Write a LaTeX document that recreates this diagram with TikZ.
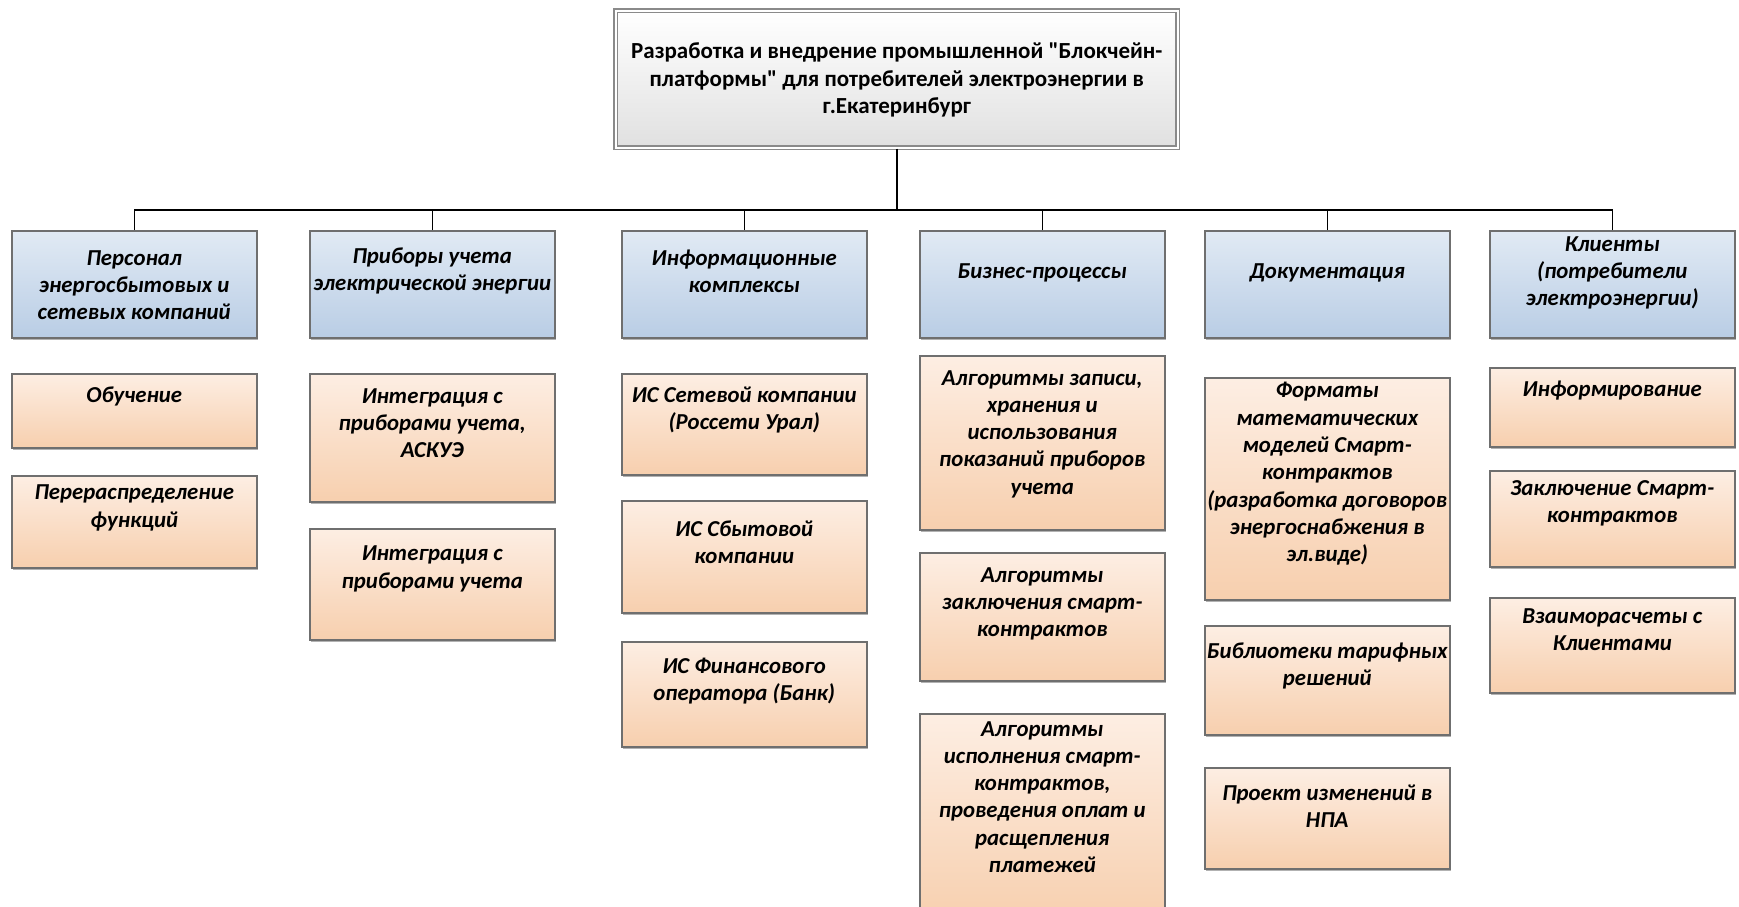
\documentclass[tikz,border=0pt]{standalone}
\usepackage{fontspec}
\setmainfont{Carlito}[Ligatures=TeXOff]
\usetikzlibrary{shadows}

\definecolor{edgeGray}{HTML}{6F6F6F}
\definecolor{rootEdge}{HTML}{8A8A8A}
\definecolor{blueTop}{HTML}{E1EAF4}
\definecolor{blueBot}{HTML}{B9CDE5}
\definecolor{peachTop}{HTML}{FDEEE3}
\definecolor{peachBot}{HTML}{F7CFAE}

\tikzset{
  boxshadow/.style={drop shadow={shadow xshift=1.5pt, shadow yshift=-2pt, opacity=0.3, fill=black}},
  rootbox/.style={draw=rootEdge, line width=1.7pt, double=white, double distance=1.8pt,
    top color=white, bottom color=black!12, boxshadow, inner sep=0},
  headbox/.style={draw=edgeGray, line width=1.5pt, top color=blueTop, bottom color=blueBot,
    boxshadow, inner sep=0},
  itembox/.style={draw=edgeGray, line width=1.5pt, top color=peachTop, bottom color=peachBot,
    boxshadow, inner sep=0},
  roottext/.style={font=\fontsize{23}{27.3}\selectfont\bfseries, align=center, inner sep=0},
  celltext/.style={font=\fontsize{22.8}{27.3}\selectfont\bfseries\itshape, align=center, inner sep=0},
  wire/.style={draw=black, line width=1.5pt},
  trunk/.style={draw=black, line width=2.2pt}
}

% box style, text style, name, left x, top y, width, height, text centre y, text
\newcommand\cell[9]{%
  \node[#1, anchor=north west, minimum width=#6pt, minimum height=#7pt] (#3) at (#4,#5) {};
  \node[#2] (#3-t) at (#3.north |- 0,#8) {#9};}

\begin{document}
\begin{tikzpicture}[x=1pt, y=-1pt]
  \useasboundingbox (0,0) rectangle (1739,906);
  \clip (0,0) rectangle (1739,906);
  \fill[white] (0,0) rectangle (1739,906);

  % root
  \cell{rootbox}{roottext}{root}{615}{10}{562}{137}{80}{Разработка и внедрение промышленной "Блокчейн-\\платформы" для потребителей электроэнергии в\\г.Екатеринбург}

  % first level
  \cell{headbox}{celltext}{h1}{11}{230}{245}{107}{285}{Персонал\\энергосбытовых и\\сетевых компаний}
  \cell{headbox}{celltext}{h2}{309}{230}{245}{107}{271}{Приборы учета\\электрической энергии}
  \cell{headbox}{celltext}{h3}{621}{230}{245}{107}{271}{Информационные\\комплексы}
  \cell{headbox}{celltext}{h4}{919}{230}{245}{107}{273}{Бизнес-процессы}
  \cell{headbox}{celltext}{h5}{1204}{230}{245}{107}{273}{Документация}
  \cell{headbox}{celltext}{h6}{1489}{230}{245}{107}{273}{Клиенты\\(потребители\\электроэнергии)}

  % connectors
  \coordinate (bus) at (root.south |- 0,210);
  \draw[trunk] (root.south) -- (bus);
  \foreach \h in {h1,h2,h3,h4,h5,h6} {\draw[wire] (\h.north) |- (bus);}

  % column 1
  \cell{itembox}{celltext}{a1}{11}{373}{245}{74}{396}{Обучение}
  \cell{itembox}{celltext}{a2}{11}{475}{245}{92}{508}{Перераспределение\\функций}
  % column 2
  \cell{itembox}{celltext}{b1}{309}{373}{245}{128}{423}{Интеграция с\\приборами учета,\\АСКУЭ}
  \cell{itembox}{celltext}{b2}{309}{528}{245}{111}{569}{Интеграция с\\приборами учета}
  % column 3
  \cell{itembox}{celltext}{c1}{621}{373}{245}{101}{410}{ИС Сетевой компании\\(Россети Урал)}
  \cell{itembox}{celltext}{c2}{621}{500}{245}{112}{542}{ИС Сбытовой\\компании}
  \cell{itembox}{celltext}{c3}{621}{641}{245}{105}{681}{ИС Финансового\\оператора (Банк)}
  % column 4
  \cell{itembox}{celltext}{d1}{919}{355}{245}{174}{434}{Алгоритмы записи,\\хранения и\\использования\\показаний приборов\\учета}
  \cell{itembox}{celltext}{d2}{919}{552}{245}{128}{604}{Алгоритмы\\заключения смарт-\\контрактов}
  \cell{itembox}{celltext}{d3}{919}{713}{245}{210}{797}{Алгоритмы\\исполнения смарт-\\контрактов,\\проведения оплат и\\расщепления\\платежей}
  % column 5
  \cell{itembox}{celltext}{e1}{1204}{377}{245}{222}{474}{Форматы\\математических\\моделей Смарт-\\контрактов\\(разработка договоров\\энергоснабжения в\\эл.виде)}
  \cell{itembox}{celltext}{e2}{1204}{625}{245}{109}{666}{Библиотеки тарифных\\решений}
  \cell{itembox}{celltext}{e3}{1204}{767}{245}{101}{806}{Проект изменений в\\НПА}
  % column 6
  \cell{itembox}{celltext}{f1}{1489}{367}{245}{79}{391}{Информирование}
  \cell{itembox}{celltext}{f2}{1489}{470}{245}{96}{503}{Заключение Смарт-\\контрактов}
  \cell{itembox}{celltext}{f3}{1489}{597}{245}{95}{630}{Взаиморасчеты с\\Клиентами}
\end{tikzpicture}
\end{document}
